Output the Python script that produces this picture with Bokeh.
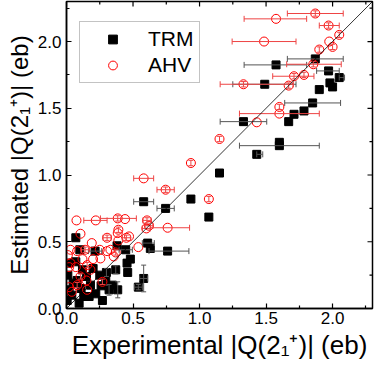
import numpy as np
from bokeh.plotting import figure
from bokeh.models import (ColumnDataSource, Whisker, TeeHead, Range1d,
                          Legend, LegendItem, FixedTicker, NumeralTickFormatter, Slope)
from bokeh.embed import file_html
from bokeh.resources import INLINE

# ---------------- data ----------------
trm_x = [1.575, 1.87, 1.49, 1.97, 2.05, 1.98, 2.0, 1.90, 1.85, 1.785, 1.71, 1.67, 1.33, 1.60, 1.60,
         1.43, 1.15, 0.935, 1.07, 0.745, 0.58, 0.76, 0.61, 0.63, 0.48, 0.46, 0.58, 0.54, 0.07, 0.215,
         0.445, 0.015, 0.07, 0.12, 0.01, 0.08, 0.02, 0.11, 0.18, 0.32, 0.345, 0.385, 0.22, 0.17, 0.095,
         0.27, 0.37, 0.455, 0.295, 0.04, 0.05, 0.25, 0.15, 0.2, 0.38, 0.10, 0.30, 0.13, 0.26, 0.005]
trm_y = [1.825, 1.87, 1.68, 1.78, 1.73, 1.69, 1.66, 1.64, 1.54, 1.48, 1.455, 1.40, 1.40, 1.245, 1.22,
         1.155, 1.015, 0.82, 0.685, 0.75, 0.80, 0.43, 0.49, 0.45, 0.37, 0.27, 0.225, 0.16, 0.53, 0.43,
         0.44, 0.34, 0.35, 0.29, 0.25, 0.21, 0.14, 0.15, 0.175, 0.14, 0.175, 0.14, 0.11, 0.09, 0.04,
         0.06, 0.29, 0.34, 0.21, 0.10, 0.19, 0.25, 0.24, 0.30, 0.47, 0.44, 0.27, 0.09, 0.17, 0.06]
trm_xerr_minus = [0.24, 0.21, 0.24, 0.09, 0, 0, 0, 0, 0.21, 0, 0, 0, 0.175, 0, 0.3,
                  0, 0, 0, 0, 0.065, 0.075, 0.14, 0.04, 0, 0, 0, 0.03, 0.03, 0, 0.05,
                  0.05, 0, 0, 0, 0, 0, 0, 0, 0, 0, 0, 0, 0, 0, 0,
                  0, 0, 0, 0, 0, 0, 0, 0, 0, 0, 0, 0, 0, 0, 0]
trm_xerr_plus = [0.23, 0.21, 0.235, 0.08, 0.04, 0, 0, 0, 0.21, 0, 0, 0, 0.175, 0, 0.3,
                 0.045, 0, 0, 0, 0.065, 0.075, 0.16, 0.05, 0, 0, 0, 0.03, 0.03, 0, 0.05,
                 0.05, 0, 0, 0, 0, 0, 0, 0, 0, 0, 0, 0, 0, 0, 0,
                 0, 0, 0, 0, 0, 0, 0, 0, 0, 0, 0, 0, 0, 0, 0]
trm_yerr = [0, 0, 0, 0, 0, 0, 0, 0, 0, 0, 0, 0, 0, 0, 0,
            0, 0, 0, 0, 0, 0, 0, 0, 0, 0, 0, 0.1, 0.02, 0, 0,
            0, 0, 0, 0, 0, 0, 0, 0, 0, 0.04, 0, 0.06, 0, 0, 0,
            0, 0.03, 0, 0, 0, 0, 0, 0, 0, 0, 0, 0.03, 0, 0, 0]

ahv_x = [1.87, 1.575, 1.97, 1.485, 2.05, 1.975, 2.0, 1.90, 1.855, 1.71, 1.785, 1.67, 1.33, 1.60, 1.60,
         1.43, 1.15, 0.935, 1.07, 0.745, 0.58, 0.76, 0.605, 0.60, 0.075, 0.22, 0.385, 0.44, 0.39, 0.385,
         0.105, 0.19, 0.305, 0.39, 0.45, 0.54, 0.03, 0.08, 0.14, 0.305, 0.37, 0.255, 0.03, 0.07, 0.155,
         0.18, 0.105, 0.15, 0.27, 0.02, 0.08, 0.04, 0.155, 0.02, 0.355, 0.62, 0.47, 0.20, 0.12, 0.01,
         0.25, 0.33]
ahv_y = [2.21, 2.17, 2.12, 2.0, 2.05, 2.0, 1.96, 1.94, 1.83, 1.74, 1.75, 1.67, 1.68, 1.51, 1.46,
         1.395, 1.27, 1.09, 0.82, 0.89, 0.975, 0.605, 0.66, 0.60, 0.66, 0.66, 0.675, 0.67, 0.59, 0.565,
         0.56, 0.49, 0.53, 0.51, 0.53, 0.46, 0.44, 0.43, 0.44, 0.43, 0.42, 0.375, 0.34, 0.31, 0.325,
         0.29, 0.24, 0.21, 0.20, 0.16, 0.175, 0.125, 0.14, 0.31, 0.39, 0.62, 0.54, 0.37, 0.37, 0.40,
         0.44, 0.44]
ahv_xerr_minus = [0.21, 0.24, 0.07, 0.24, 0, 0, 0, 0, 0.2, 0.16, 0, 0, 0.175, 0, 0.3,
                  0, 0, 0, 0, 0.065, 0.075, 0.13, 0.03, 0.03, 0, 0.09, 0.13, 0, 0, 0,
                  0, 0, 0.03, 0, 0.03, 0, 0, 0, 0.03, 0, 0, 0, 0, 0, 0,
                  0, 0, 0, 0, 0, 0, 0, 0, 0, 0, 0.03, 0, 0, 0, 0,
                  0, 0]
ahv_xerr_plus = [0.21, 0.23, 0.08, 0.24, 0, 0, 0, 0, 0.21, 0.15, 0, 0, 0.375, 0, 0.3,
                 0, 0, 0, 0, 0.065, 0.075, 0.165, 0.03, 0.03, 0, 0.085, 0.14, 0, 0, 0,
                 0, 0, 0.03, 0, 0.03, 0, 0, 0, 0.03, 0, 0, 0, 0, 0, 0,
                 0, 0, 0, 0, 0, 0, 0, 0, 0, 0, 0.03, 0, 0, 0, 0,
                 0, 0]
ahv_yerr = [0.02, 0, 0.02, 0, 0.02, 0, 0.02, 0.02, 0.02, 0.02, 0.02, 0.02, 0.02, 0.02, 0,
            0, 0.02, 0.02, 0.02, 0.02, 0, 0, 0.02, 0, 0, 0, 0.02, 0, 0.02, 0,
            0, 0, 0.02, 0, 0.02, 0, 0, 0, 0.02, 0, 0.02, 0, 0, 0, 0.02,
            0, 0.02, 0, 0.02, 0, 0.02, 0, 0, 0, 0, 0, 0, 0, 0, 0,
            0, 0]

axis_max = 2.3
major_ticks = [0.0, 0.5, 1.0, 1.5, 2.0]
minor_ticks = [0.25, 0.75, 1.25, 1.75, 2.25]

# ---------------- figure ----------------
p = figure(width=374, height=367, x_range=Range1d(0, axis_max), y_range=Range1d(0, axis_max),
           output_backend="svg", toolbar_location=None,
           min_border_left=66, min_border_right=2, min_border_top=1, min_border_bottom=59)
p.xgrid.visible = False
p.ygrid.visible = False
p.outline_line_color = "black"
p.outline_line_width = 1.5
p.background_fill_color = "white"
p.border_fill_color = "white"

FONT = "Liberation Sans"

for ax in (p.xaxis[0], p.yaxis[0]):
    ax.ticker = FixedTicker(ticks=major_ticks, minor_ticks=minor_ticks)
    ax.formatter = NumeralTickFormatter(format="0.0")
    ax.major_tick_in = 5
    ax.major_tick_out = 0
    ax.minor_tick_in = 3
    ax.minor_tick_out = 0
    ax.axis_line_width = 1.5
    ax.major_tick_line_width = 1.2
    ax.minor_tick_line_width = 1.2
    ax.major_label_text_font = FONT
    ax.major_label_text_font_size = "17px"
    ax.major_label_text_color = "black"
    ax.axis_label_text_font = FONT
    ax.axis_label_text_font_style = "normal"
    ax.axis_label_text_color = "black"

p.xaxis.major_label_standoff = 3
p.yaxis.major_label_standoff = 5
p.xaxis.axis_label_standoff = 3
p.yaxis.axis_label_standoff = 2
p.xaxis.axis_label = "Experimental |Q(2\u2081\u207a)| (eb)"
p.yaxis.axis_label = "Estimated |Q(2\u2081\u207a)| (eb)"
p.xaxis.axis_label_text_font_size = "26px"
p.yaxis.axis_label_text_font_size = "24px"

# inward ticks on the right and top edges (half of each dash is clipped by the frame)
edge_r = [axis_max] * len(major_ticks)
p.scatter(edge_r, major_ticks, marker="dash", size=10, line_color="black", line_width=1.2)
p.scatter(edge_r, minor_ticks, marker="dash", size=6, line_color="black", line_width=1.2)
p.scatter(major_ticks, edge_r, marker="dash", angle=np.pi / 2, size=10, line_color="black", line_width=1.2)
p.scatter(minor_ticks, edge_r, marker="dash", angle=np.pi / 2, size=6, line_color="black", line_width=1.2)


def err_sources(x, y, xm, xp, ye):
    x = np.array(x); y = np.array(y); xm = np.array(xm); xp = np.array(xp); ye = np.array(ye)
    mx = (xm > 0) | (xp > 0)
    my = ye > 0
    sx = ColumnDataSource(dict(y=y[mx], lo=(x - xm)[mx], hi=(x + xp)[mx]))
    sy = ColumnDataSource(dict(x=x[my], lo=(y - ye)[my], hi=(y + ye)[my]))
    return sx, sy


def add_errors(sx, sy, color):
    wx = Whisker(source=sx, base="y", lower="lo", upper="hi", dimension="width",
                 line_color=color, line_width=1,
                 lower_head=TeeHead(size=6, line_color=color, line_width=1),
                 upper_head=TeeHead(size=6, line_color=color, line_width=1))
    wy = Whisker(source=sy, base="x", lower="lo", upper="hi", dimension="height",
                 line_color=color, line_width=1,
                 lower_head=TeeHead(size=5, line_color=color, line_width=1),
                 upper_head=TeeHead(size=5, line_color=color, line_width=1))
    wx.level = "glyph"
    wy.level = "glyph"
    p.add_layout(wx)
    p.add_layout(wy)


tsx, tsy = err_sources(trm_x, trm_y, trm_xerr_minus, trm_xerr_plus, trm_yerr)
add_errors(tsx, tsy, "#555555")
r_trm = p.scatter(trm_x, trm_y, marker="square", size=8, fill_color="black", line_color="black")

asx, asy = err_sources(ahv_x, ahv_y, ahv_xerr_minus, ahv_xerr_plus, ahv_yerr)
add_errors(asx, asy, "#ee4444")
r_ahv = p.scatter(ahv_x, ahv_y, marker="circle", size=9, fill_color=None,
                  line_color="#ff0000", line_width=1)

p.add_layout(Slope(gradient=1, y_intercept=0, line_color="black", line_width=0.8))

legend = Legend(items=[LegendItem(label="TRM", renderers=[r_trm]),
                       LegendItem(label="AHV", renderers=[r_ahv])],
                location=(13, 225))
legend.label_text_font = FONT
legend.label_text_font_size = "21px"
legend.label_text_color = "black"
legend.glyph_width = 55
legend.glyph_height = 22
legend.label_height = 22
legend.label_standoff = 8
legend.spacing = 2
legend.padding = 5
legend.border_line_color = "#888888"
legend.border_line_width = 1
legend.background_fill_alpha = 1
p.add_layout(legend)

open("out.html", "w").write(file_html(p, INLINE))
